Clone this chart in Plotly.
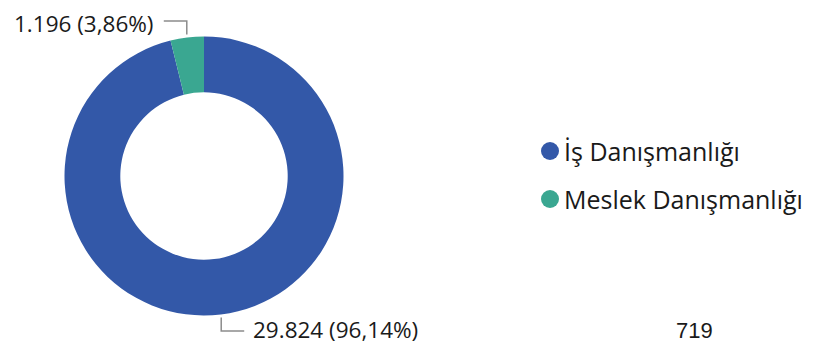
import math
import plotly.graph_objects as go

labels = ["İş Danışmanlığı", "Meslek Danışmanlığı"]
values = [29824, 1196]
colors = ["#3358A8", "#3AA791"]
extra_text = "719"

# page body has an 8px margin; work in viewport pixels and convert
OFF = 8
W, H = 830 - OFF, 344 - OFF
cx, cy, R = 204, 176, 139.5
hole = 0.6

def px2x(x):
    return (x - OFF) / W

def px2y(y):
    return 1 - (y - OFF) / H

def fmt_int(v):
    return f"{v:,}".replace(",", ".")

def fmt_pct(p):
    return f"{p:.2f}".replace(".", ",")

total = sum(values)

fig = go.Figure()
fig.add_trace(go.Pie(
    labels=labels, values=values, hole=hole, sort=False, direction="clockwise",
    rotation=0, marker=dict(colors=colors, line=dict(width=0)),
    textinfo="none", showlegend=False, hoverinfo="label+value+percent",
    domain=dict(x=[px2x(cx - R), px2x(cx + R)], y=[px2y(cy + R), px2y(cy - R)]),
))

shapes = []
annotations = []
cum = 0
for v in values:
    mid = (cum + v / 2) / total * 360
    cum += v
    a = math.radians(mid)
    px = cx + (R + 3) * math.sin(a)
    py = cy - (R + 3) * math.cos(a)
    pct = v / total * 100
    txt = f"{fmt_int(v)} ({fmt_pct(pct)}%)"
    if math.cos(a) > 0:  # top
        ey = 21
        ty = 23.5
        ex = px - 23
        anchor = "right"
        tx = ex - 9
    else:
        ey = 331
        ty = 329
        ex = px + 23
        anchor = "left"
        tx = ex + 8
    pts = [(px, py), (px, ey), (ex, ey)]
    path = "M " + " L ".join(f"{px2x(x)},{px2y(y)}" for x, y in pts)
    shapes.append(dict(type="path", xref="paper", yref="paper", path=path,
                       line=dict(color="#8c8c8c", width=1.5)))
    annotations.append(dict(x=px2x(tx), y=px2y(ty), xref="paper", yref="paper",
                            text=txt, showarrow=False, xanchor=anchor, yanchor="middle",
                            borderpad=0,
                            font=dict(family="Open Sans", size=22.5, color="#1a1a1a")))

# legend: circle + label
for i, (lab, col) in enumerate(zip(labels, colors)):
    ly = 151 + 48 * i
    lx = 550
    r = 9
    shapes.append(dict(type="circle", xref="paper", yref="paper",
                       x0=px2x(lx - r), x1=px2x(lx + r), y0=px2y(ly + r), y1=px2y(ly - r),
                       fillcolor=col, line=dict(width=0)))
    annotations.append(dict(x=px2x(562), y=px2y(ly), xref="paper", yref="paper", text=lab,
                            showarrow=False, xanchor="left", yanchor="middle",
                            font=dict(family="Open Sans", size=25, color="#1a1a1a")))

annotations.append(dict(x=px2x(694.5), y=px2y(330), xref="paper", yref="paper", text=extra_text,
                        showarrow=False, xanchor="center", yanchor="middle", borderpad=0,
                        font=dict(family="Liberation Sans, Arial", size=22, color="#1a1a1a")))

fig.update_layout(
    width=W, height=H, margin=dict(l=0, r=0, t=0, b=0),
    paper_bgcolor="white", plot_bgcolor="white",
    showlegend=False,
    shapes=shapes, annotations=annotations,
)

fig.write_html("out.html")
